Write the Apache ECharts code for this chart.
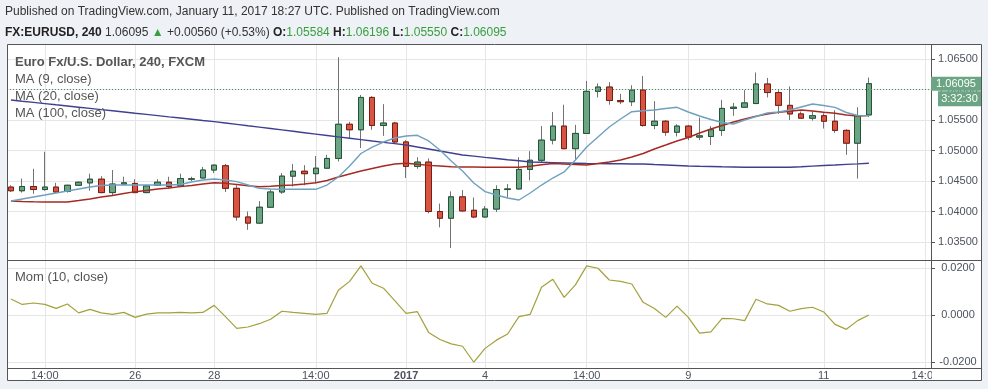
<!DOCTYPE html>
<html><head><meta charset="utf-8">
<script src="https://cdn.jsdelivr.net/npm/echarts@6/dist/echarts.min.js"></script>
<style>html,body{margin:0;padding:0;background:#eef1f6;}#c{width:988px;height:389px;}</style>
</head><body><div id="c"></div>
<script>
// ---- data ----
const opens = [
1.0440,1.0434,1.0441,1.0436,1.0440,1.0433,1.0443,1.0447,1.0453,1.0431,
1.0445,1.0446,1.0431,1.0443,1.0448,1.0442,1.0453,1.0455,1.0468,1.0475,
1.0438,1.0391,1.0381,1.0407,1.0432,1.0458,1.0466,1.0462,1.0471,1.0487,
1.0543,1.0534,1.0587,1.0541,1.0545,1.0514,1.0474,1.0481,1.0400,1.0389,
1.0424,1.0402,1.0391,1.0404,1.0436,1.0437,1.0469,1.0484,1.0517,1.0540,
1.0503,1.0528,1.0597,1.0604,1.0582,1.0580,1.0599,1.0541,1.0548,1.0530,
1.0540,1.0522,1.0523,1.0533,1.0569,1.0571,1.0577,1.0609,1.0595,1.0574,
1.0560,1.0553,1.0557,1.0548,1.0533,1.0512,1.05584];
const closes = [
1.0434,1.0441,1.0436,1.0440,1.0432,1.0443,1.0448,1.0453,1.0431,1.0445,
1.0447,1.0431,1.0442,1.0448,1.0441,1.0454,1.04535,1.0468,1.0476,1.0438,
1.0391,1.0381,1.0407,1.0432,1.0458,1.0466,1.0462,1.0471,1.0487,1.0543,
1.0534,1.0587,1.0541,1.0545,1.0514,1.0474,1.0481,1.0400,1.0389,1.0424,
1.0401,1.0391,1.0404,1.0436,1.0437,1.0469,1.0484,1.0517,1.0540,1.0503,
1.0528,1.0597,1.0604,1.0582,1.0580,1.0599,1.0541,1.0548,1.0530,1.0540,
1.0522,1.0524,1.0534,1.0569,1.0571,1.0578,1.0609,1.0595,1.0574,1.0560,
1.0553,1.0557,1.0548,1.0533,1.0512,1.0557,1.06095];
const lows = [
1.0432,1.0431,1.0429,1.0434,1.0431,1.0431,1.0442,1.0434,1.0430,1.0427,
1.0444,1.0430,1.0430,1.0442,1.0437,1.0440,1.0450,1.0454,1.0463,1.0432,
1.0385,1.0370,1.0380,1.0406,1.0429,1.0441,1.0443,1.0446,1.0470,1.0482,
1.0520,1.0504,1.0534,1.0524,1.0512,1.0455,1.0470,1.0397,1.0374,1.0340,
1.0399,1.0389,1.0390,1.0399,1.0423,1.0436,1.0451,1.0480,1.0510,1.0502,
1.0484,1.0528,1.0587,1.0575,1.0576,1.0573,1.0539,1.0535,1.0524,1.0523,
1.0517,1.0517,1.0509,1.0524,1.0557,1.0570,1.0576,1.0587,1.0560,1.0550,
1.0552,1.0549,1.0536,1.0529,1.0493,1.0454,1.05550];
const highs = [
1.0443,1.0454,1.0470,1.0498,1.0447,1.0444,1.0449,1.0462,1.0458,1.0468,
1.0457,1.0453,1.0443,1.0453,1.0457,1.0462,1.0457,1.0473,1.0477,1.0478,
1.0443,1.0400,1.0417,1.0436,1.0463,1.0478,1.0476,1.0491,1.0493,1.0653,
1.0547,1.0591,1.0589,1.0576,1.0547,1.0517,1.0489,1.0487,1.0413,1.0433,
1.0435,1.0423,1.0409,1.0443,1.0445,1.0489,1.0499,1.0540,1.0563,1.0575,
1.0542,1.0614,1.0610,1.0612,1.0593,1.0607,1.0622,1.0581,1.0550,1.0543,
1.0542,1.0554,1.0540,1.0583,1.0578,1.0599,1.0628,1.0619,1.0599,1.0605,
1.0564,1.0564,1.0561,1.0566,1.0535,1.0571,1.06196];
const ma9 = [
1.04172,1.04205,1.04238,1.04270,1.04303,1.04336,1.04369,1.04402,1.04426,1.04434,
1.04434,1.04434,1.04434,1.04434,1.04434,1.04443,1.04484,1.04516,1.04533,1.04516,
1.04489,1.04434,1.04380,1.04369,1.04364,1.04364,1.04364,1.04364,1.04434,1.04566,
1.04746,1.04951,1.05057,1.05139,1.05205,1.05238,1.05249,1.05156,1.05008,1.04828,
1.04664,1.04467,1.04325,1.04270,1.04221,1.04189,1.04303,1.04434,1.04549,1.04648,
1.04844,1.05057,1.05221,1.05385,1.05516,1.05636,1.05651,1.05664,1.05689,1.05708,
1.05631,1.05566,1.05508,1.05459,1.05434,1.05500,1.05557,1.05615,1.05631,1.05664,
1.05713,1.05762,1.05738,1.05708,1.05623,1.05574,1.05571];
const ma20 = [
1.04172,1.04164,1.04159,1.04156,1.04156,1.04156,1.04180,1.04205,1.04238,1.04262,
1.04295,1.04325,1.04344,1.04369,1.04385,1.04407,1.04426,1.04451,1.04472,1.04462,
1.04443,1.04423,1.04407,1.04415,1.04426,1.04434,1.04451,1.04472,1.04508,1.04566,
1.04615,1.04664,1.04705,1.04746,1.04779,1.04790,1.04774,1.04757,1.04746,1.04734,
1.04730,1.04730,1.04726,1.04725,1.04725,1.04725,1.04741,1.04766,1.04787,1.04779,
1.04770,1.04762,1.04787,1.04811,1.04844,1.04893,1.04951,1.05025,1.05090,1.05156,
1.05213,1.05287,1.05352,1.05410,1.05467,1.05516,1.05561,1.05598,1.05626,1.05643,
1.05664,1.05648,1.05626,1.05610,1.05582,1.05566,1.05571];
const ma100 = [
1.05828,1.05808,1.05789,1.05769,1.05749,1.05730,1.05710,1.05690,1.05670,1.05651,
1.05631,1.05611,1.05592,1.05572,1.05552,1.05533,1.05513,1.05493,1.05474,1.05451,
1.05428,1.05405,1.05384,1.05361,1.05338,1.05315,1.05292,1.05269,1.05246,1.05223,
1.05202,1.05179,1.05156,1.05134,1.05113,1.05090,1.05057,1.05025,1.04992,1.04959,
1.04926,1.04907,1.04887,1.04869,1.04849,1.04831,1.04811,1.04807,1.04802,1.04797,
1.04792,1.04787,1.04785,1.04784,1.04782,1.04780,1.04779,1.04770,1.04762,1.04754,
1.04746,1.04741,1.04738,1.04733,1.04730,1.04725,1.04725,1.04725,1.04725,1.04725,
1.04734,1.04744,1.04754,1.04762,1.04772,1.04780,1.04790];
const mom = [
0.0068,0.0045,0.0051,0.0045,0.0028,0.0047,0.0009,0.0024,0.0009,0.0003,
0.0011,-0.0010,0.0004,0.0009,0.0009,0.0011,0.0009,0.0011,0.0041,-0.0007,
-0.0057,-0.0051,-0.0037,-0.0018,0.0016,0.0011,0.0007,0.0003,0.0007,0.0105,
0.0143,0.0209,0.0135,0.0114,0.0061,0.0007,0.0014,-0.0074,-0.0104,-0.0123,
-0.0133,-0.0201,-0.0142,-0.0107,-0.0081,-0.0007,0.0003,0.0118,0.0152,0.0075,
0.0128,0.0209,0.0199,0.0149,0.0143,0.0132,0.0054,0.0028,-0.0010,0.0038,
-0.0010,-0.0077,-0.0072,-0.0014,-0.0016,-0.0024,0.0067,0.0047,0.0041,0.0016,
0.0027,0.0033,0.0013,-0.0040,-0.0061,-0.0024,0.0000];
const timeTicks  = [3, 11, 18, 27, 35, 42, 51, 60, 72, 81];
const timeLabels = ['14:00','26','28','14:00','2017','4','14:00','9','11','14:00'];
const priceTicks = [1.035, 1.040, 1.045, 1.050, 1.055, 1.060, 1.065];
const momTicks = [-0.02, 0, 0.02];
const lastPrice = 1.06095;
const countdown = '3:32:30';

// ---- chart ----
const FONT = '"Liberation Sans", Arial, sans-serif';
const idx = closes.map((_, i) => i);
const candleFull = idx.map(i => [i, opens[i], closes[i], lows[i], highs[i]]);
const candleBody = idx.map(i => [i, opens[i], closes[i], Math.min(opens[i], closes[i]), Math.max(opens[i], closes[i])]);
const pair = a => a.map((v, i) => [i, v]);
const GRID_LINE = '#e6e6e6';
const X_RANGE = {min: -0.35, max: 81.5};

const chart = echarts.init(document.getElementById('c'), null, {renderer: 'canvas'});
const xLabelFmt = v => {
  const k = timeTicks.indexOf(Math.round(v));
  const t = k >= 0 ? timeLabels[k] : '';
  return t === '2017' ? '{b|2017}' : t;
};
const staticGraphics = [
  {id: 'bg', type: 'rect', z: -100, silent: true, shape: {x: 7, y: 44, width: 974, height: 337}, style: {fill: '#fff'}},
  {id: 'clip', type: 'rect', z: 90, silent: true, shape: {x: 932, y: 369, width: 49, height: 12}, style: {fill: '#fff'}},
  {id: 'frame', type: 'rect', z: 100, silent: true, shape: {x: 7.5, y: 44.5, width: 974, height: 336}, style: {fill: null, stroke: '#555', lineWidth: 1}},
  {id: 'sep1', type: 'line', z: 100, silent: true, shape: {x1: 7, y1: 260.5, x2: 981, y2: 260.5}, style: {stroke: '#555', lineWidth: 1}},
  {id: 'sep2', type: 'line', z: 100, silent: true, shape: {x1: 7, y1: 368.5, x2: 981, y2: 368.5}, style: {stroke: '#555', lineWidth: 1}},
  {id: 'axr', type: 'line', z: 100, silent: true, shape: {x1: 931.5, y1: 44, x2: 931.5, y2: 368.5}, style: {stroke: '#555', lineWidth: 1}},
  {id: 'h1', type: 'text', z: 111, silent: true, x: 5, y: 12, style: {text: 'Published on TradingView.com, January 11, 2017 18:27 UTC. Published on TradingView.com',
    fill: '#333', font: '12px ' + FONT, verticalAlign: 'middle'}},
  {id: 'h2', type: 'text', z: 111, silent: true, x: 5, y: 33, style: {
    text: '{b|FX:EURUSD, 240} {n|1.06095} {g|▲} {n|+0.00560 (+0.53%)} {b|O:}{g|1.05584} {b|H:}{g|1.06196} {b|L:}{g|1.05550} {b|C:}{g|1.06095}',
    font: '12px ' + FONT, fill: '#333', verticalAlign: 'middle',
    rich: {b: {fontWeight: 'bold', fill: '#222', fontSize: 12, fontFamily: FONT},
           n: {fill: '#333', fontSize: 12, fontFamily: FONT},
           g: {fill: '#3a9e3f', fontSize: 12, fontFamily: FONT}}}},
  {id: 'l0', type: 'text', z: 111, silent: true, x: 15, y: 62, style: {text: 'Euro Fx/U.S. Dollar, 240, FXCM', fill: '#555', font: 'bold 13px ' + FONT, verticalAlign: 'middle'}},
  {id: 'l1', type: 'text', z: 111, silent: true, x: 15, y: 79, style: {text: 'MA (9, close)', fill: '#555', font: '13px ' + FONT, verticalAlign: 'middle'}},
  {id: 'l2', type: 'text', z: 111, silent: true, x: 15, y: 96, style: {text: 'MA (20, close)', fill: '#555', font: '13px ' + FONT, verticalAlign: 'middle'}},
  {id: 'l3', type: 'text', z: 111, silent: true, x: 15, y: 113, style: {text: 'MA (100, close)', fill: '#555', font: '13px ' + FONT, verticalAlign: 'middle'}},
  {id: 'l4', type: 'text', z: 111, silent: true, x: 15, y: 277, style: {text: 'Mom (10, close)', fill: '#555', font: '13px ' + FONT, verticalAlign: 'middle'}}
];
chart.setOption({
  animation: false,
  backgroundColor: 'transparent',
  grid: [
    {left: 7, top: 44, width: 924, height: 216, outerBoundsMode: 'none', containLabel: false},
    {left: 7, top: 261, width: 924, height: 107, outerBoundsMode: 'none', containLabel: false}
  ],
  xAxis: [
    {gridIndex: 0, type: 'value', min: X_RANGE.min, max: X_RANGE.max, position: 'bottom',
     axisLine: {show: false, onZero: false}, axisTick: {show: false, customValues: timeTicks},
     axisLabel: {show: false, customValues: timeTicks},
     splitLine: {show: true, lineStyle: {color: GRID_LINE, width: 1}}},
    {gridIndex: 1, type: 'value', min: X_RANGE.min, max: X_RANGE.max, position: 'bottom',
     axisLine: {show: false, onZero: false}, axisTick: {show: false, customValues: timeTicks},
     axisLabel: {show: true, customValues: timeTicks, formatter: xLabelFmt, hideOverlap: false,
       color: '#4c525e', fontSize: 11, fontFamily: FONT, margin: 2,
       rich: {b: {fontWeight: 'bold', color: '#4c525e', fontSize: 11, fontFamily: FONT}}},
     splitLine: {show: true, lineStyle: {color: GRID_LINE, width: 1}}}
  ],
  yAxis: [
    {gridIndex: 0, type: 'value', position: 'right', min: 1.03205, max: 1.06746,
     axisLine: {show: false, onZero: false},
     axisTick: {show: true, inside: false, length: 4, lineStyle: {color: '#555'}, customValues: priceTicks},
     axisLabel: {customValues: priceTicks, formatter: v => v.toFixed(5), color: '#4c525e',
       fontSize: 11, fontFamily: FONT, margin: 27, align: 'center', hideOverlap: false},
     splitLine: {show: true, lineStyle: {color: GRID_LINE, width: 1}}},
    {gridIndex: 1, type: 'value', position: 'right', min: -0.02255, max: 0.02298,
     axisLine: {show: false, onZero: false},
     axisTick: {show: true, inside: false, length: 4, lineStyle: {color: '#555'}, customValues: momTicks},
     axisLabel: {customValues: momTicks, formatter: v => v.toFixed(4), color: '#4c525e',
       fontSize: 11, fontFamily: FONT, margin: 27, align: 'center', hideOverlap: false},
     splitLine: {show: true, lineStyle: {color: GRID_LINE, width: 1}}}
  ],
  series: [
    {type: 'candlestick', name: 'wick', xAxisIndex: 0, yAxisIndex: 0, data: candleFull,
     encode: {x: 0, y: [1, 2, 3, 4]}, barWidth: 6, z: 2,
     itemStyle: {color: '#6ba583', color0: '#d75442', borderColor: '#737375', borderColor0: '#737375', borderWidth: 1},
     emphasis: {disabled: true}},
    {type: 'candlestick', name: 'body', xAxisIndex: 0, yAxisIndex: 0, data: candleBody,
     encode: {x: 0, y: [1, 2, 3, 4]}, barWidth: 6, z: 3,
     itemStyle: {color: '#6ba583', color0: '#d75442', borderColor: '#225437', borderColor0: '#7d1c10', borderWidth: 1},
     emphasis: {disabled: true},
     markLine: {symbol: 'none', silent: true, animation: false,
       lineStyle: {color: '#4d8a62', type: [1, 2], width: 1},
       label: {show: false},
       data: [{yAxis: lastPrice}]}},
    {type: 'line', name: 'MA100', xAxisIndex: 0, yAxisIndex: 0, data: pair(ma100), showSymbol: false, z: 4,
     lineStyle: {color: '#3f3f8f', width: 1.4}, emphasis: {disabled: true}},
    {type: 'line', name: 'MA20', xAxisIndex: 0, yAxisIndex: 0, data: pair(ma20), showSymbol: false, z: 4,
     lineStyle: {color: '#a52a22', width: 1.4}, emphasis: {disabled: true}},
    {type: 'line', name: 'MA9', xAxisIndex: 0, yAxisIndex: 0, data: pair(ma9), showSymbol: false, z: 4,
     lineStyle: {color: '#6fa0bf', width: 1.4}, emphasis: {disabled: true}},
    {type: 'line', name: 'Mom', xAxisIndex: 1, yAxisIndex: 1, data: pair(mom), showSymbol: false, z: 4,
     lineStyle: {color: '#a3a13c', width: 1.2}, emphasis: {disabled: true}}
  ],
  graphic: staticGraphics
});

// last-price tag, placed through the price axis
const py = chart.convertToPixel({yAxisIndex: 0}, lastPrice);
chart.setOption({graphic: [
  {id: 'pbox', type: 'rect', z: 110, silent: true, shape: {x: 931, y: py - 7, width: 50, height: 14}, style: {fill: '#6ba583'}},
  {id: 'ptxt', type: 'text', z: 111, silent: true, x: 956, y: py, style: {text: lastPrice.toFixed(5), fill: '#fff', font: '11px ' + FONT, align: 'center', verticalAlign: 'middle'}},
  {id: 'cbox', type: 'rect', z: 110, silent: true, shape: {x: 938, y: py + 7.5, width: 43, height: 15}, style: {fill: '#6ba583'}},
  {id: 'ctxt', type: 'text', z: 111, silent: true, x: 959.5, y: py + 15, style: {text: countdown, fill: '#fff', font: '11px ' + FONT, align: 'center', verticalAlign: 'middle'}}
]});
</script></body></html>
